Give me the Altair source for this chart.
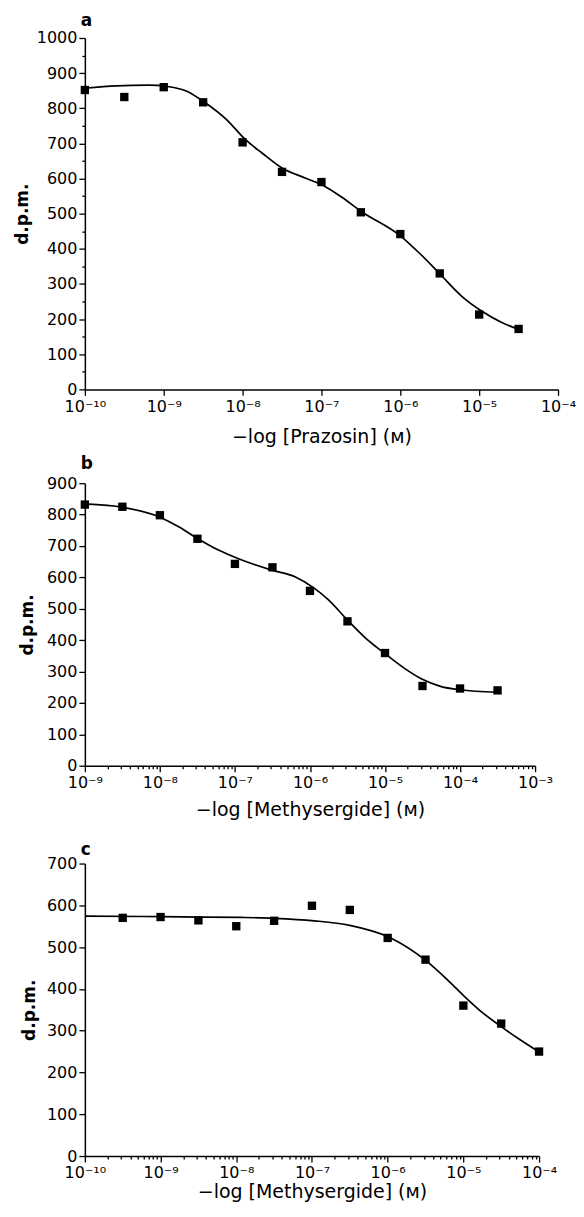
import altair as alt
import pandas as pd

FONT = "DejaVu Sans"

# ---------- Panel a : Prazosin ----------
a_pts_logx = [-10, -9.5, -9, -8.5, -8, -7.5, -7, -6.5, -6, -5.5, -5, -4.5]
a_pts_y = [852, 832, 860, 817, 703, 619, 590, 504, 442, 330, 213, 172]
a_curve_logx = [-10, -9.6, -9.2, -8.95, -8.7, -8.5, -8.2, -7.97, -7.75, -7.5, -7.2,
                -6.96, -6.75, -6.5, -6.0, -5.75, -5.5, -5.22, -4.97, -4.72, -4.49]
a_curve_y = [857, 864, 866, 862, 848, 820, 767, 712, 672, 630, 601,
             578, 548, 507, 437, 386, 329, 265, 223, 191, 170]

# ---------- Panel b : Methysergide ----------
b_pts_logx = [-9, -8.5, -8, -7.5, -7, -6.5, -6, -5.5, -5, -4.5, -4, -3.5]
b_pts_y = [832, 825, 798, 723, 643, 632, 557, 460, 359, 254, 246, 240]
b_curve_logx = [-9, -8.49, -7.99, -7.75, -7.5, -7.22, -6.96, -6.51, -6.2, -5.94,
                -5.76, -5.5, -5.27, -5.0, -4.74, -4.51, -4.25, -4.0, -3.51]
b_curve_y = [834, 823, 791, 761, 724, 687, 660, 623, 602, 565,
             530, 464, 409, 357, 310, 276, 252, 242, 234]

# ---------- Panel c : Methysergide ----------
c_pts_logx = [-9.5, -9, -8.5, -8, -7.5, -7, -6.5, -6, -5.5, -5, -4.5, -4]
c_pts_y = [570, 572, 564, 550, 563, 599, 589, 522, 470, 360, 317, 250]
c_curve_logx = [-10, -9, -8.5, -7.93, -7.5, -6.97, -6.5, -5.96, -5.51, -5.2,
                -4.98, -4.76, -4.51, -4.24, -4.0]
c_curve_y = [574, 573, 572, 571, 569, 563, 552, 522, 470, 420,
             381, 345, 311, 277, 249]

SUP = ["⁰", "¹", "²", "³", "⁴", "⁵", "⁶", "⁷", "⁸", "⁹"]
sup_arr = "[" + ",".join("'" + s + "'" for s in SUP) + "]"
E = "(-round(log(datum.value)/LN10))"
IS_DEC = "abs(log(datum.value)/LN10 - round(log(datum.value)/LN10)) < 0.001"
x_label_expr = (f"{IS_DEC} ? ('10⁻' + ({E} >= 10 ? '¹' + {sup_arr}[{E} - 10] : {sup_arr}[{E}])) : ''")


def decade_values(lo, hi, minor):
    vals = []
    for e in range(lo, hi):
        ks = range(1, 10) if minor else [1]
        for k in ks:
            vals.append(k * 10.0 ** e)
    vals.append(10.0 ** hi)
    return vals


def panel(letter, pts_lx, pts_y, cur_lx, cur_y, xlo, xhi, ymax, ystep_minor,
          width, height, xtitle, minor_x, ytitle_pad, xtitle_pad, title_off):
    pts = pd.DataFrame({"x": [10.0 ** v for v in pts_lx], "y": pts_y})
    cur = pd.DataFrame({"x": [10.0 ** v for v in cur_lx], "y": cur_y})
    xvals = decade_values(xlo, xhi, minor_x)
    yvals = list(range(0, ymax + 1, ystep_minor))
    xscale = alt.Scale(type="log", domain=[10.0 ** xlo, 10.0 ** xhi], nice=False)
    yscale = alt.Scale(domain=[0, ymax], nice=False)
    xaxis = alt.Axis(
        values=xvals, labelExpr=x_label_expr, labelOverlap=False,
        tickSize={"condition": {"test": IS_DEC, "value": 6}, "value": 3},
        labelFontSize=16, labelFont=FONT, labelPadding=3,
        title=xtitle, titleFont=FONT, titleFontSize=19, titleFontWeight="normal",
        titlePadding=xtitle_pad, grid=False, domainColor="black", domainWidth=1.5,
        tickColor="black", tickWidth=1.3, labelColor="black", titleColor="black",
        labelFlush=False,
    )
    yaxis = alt.Axis(
        values=yvals, labelExpr="datum.value % 100 == 0 ? datum.value : ''",
        labelOverlap=False, labelSeparation=0,
        tickSize={"condition": {"test": "datum.value % 100 == 0", "value": 6}, "value": 3},
        labelFontSize=16, labelFont=FONT, labelPadding=2,
        title="d.p.m.", titleFont=FONT, titleFontSize=17, titleFontWeight="bold",
        titlePadding=ytitle_pad, grid=False, domainColor="black", domainWidth=1.5,
        tickColor="black", tickWidth=1.3, labelColor="black", titleColor="black",
        labelFlush=False,
    )
    line = alt.Chart(cur).mark_line(color="black", strokeWidth=1.7,
                                    interpolate="monotone", clip=True).encode(
        x=alt.X("x:Q", scale=xscale, axis=xaxis),
        y=alt.Y("y:Q", scale=yscale, axis=yaxis),
    )
    sq = alt.Chart(pts).mark_square(color="black", size=70, opacity=1).encode(
        x=alt.X("x:Q", scale=xscale, axis=xaxis),
        y=alt.Y("y:Q", scale=yscale, axis=yaxis),
    )
    return alt.layer(line, sq).properties(
        width=width, height=height,
        title=alt.TitleParams(text=letter, anchor="start", frame="group",
                              font=FONT, fontSize=17, fontWeight="bold",
                              color="black", offset=title_off, dx=-4),
    )


pa = panel("a", a_pts_logx, a_pts_y, a_curve_logx, a_curve_y, -10, -4, 1000, 50,
           474, 352, "−log [Prazosin] (ᴍ)", False, 5, 13, 0)
pb = panel("b", b_pts_logx, b_pts_y, b_curve_logx, b_curve_y, -9, -3, 900, 100,
           451, 283, "−log [Methysergide] (ᴍ)", True, 10, 10, 2)
pc = panel("c", c_pts_logx, c_pts_y, c_curve_logx, c_curve_y, -10, -4, 700, 100,
           455, 293, "−log [Methysergide] (ᴍ)", True, 8, 2, -3)

top_two = alt.vconcat(pa, pb, spacing=9)
chart = alt.vconcat(top_two, pc, spacing=21).configure_view(stroke=None).configure_axis(
    labelOverlap=False
).properties(
    background="white", padding={"left": 5, "top": 3, "right": 0, "bottom": 0}
)

chart.save("out.html", embed_options={"renderer": "svg", "actions": False})
